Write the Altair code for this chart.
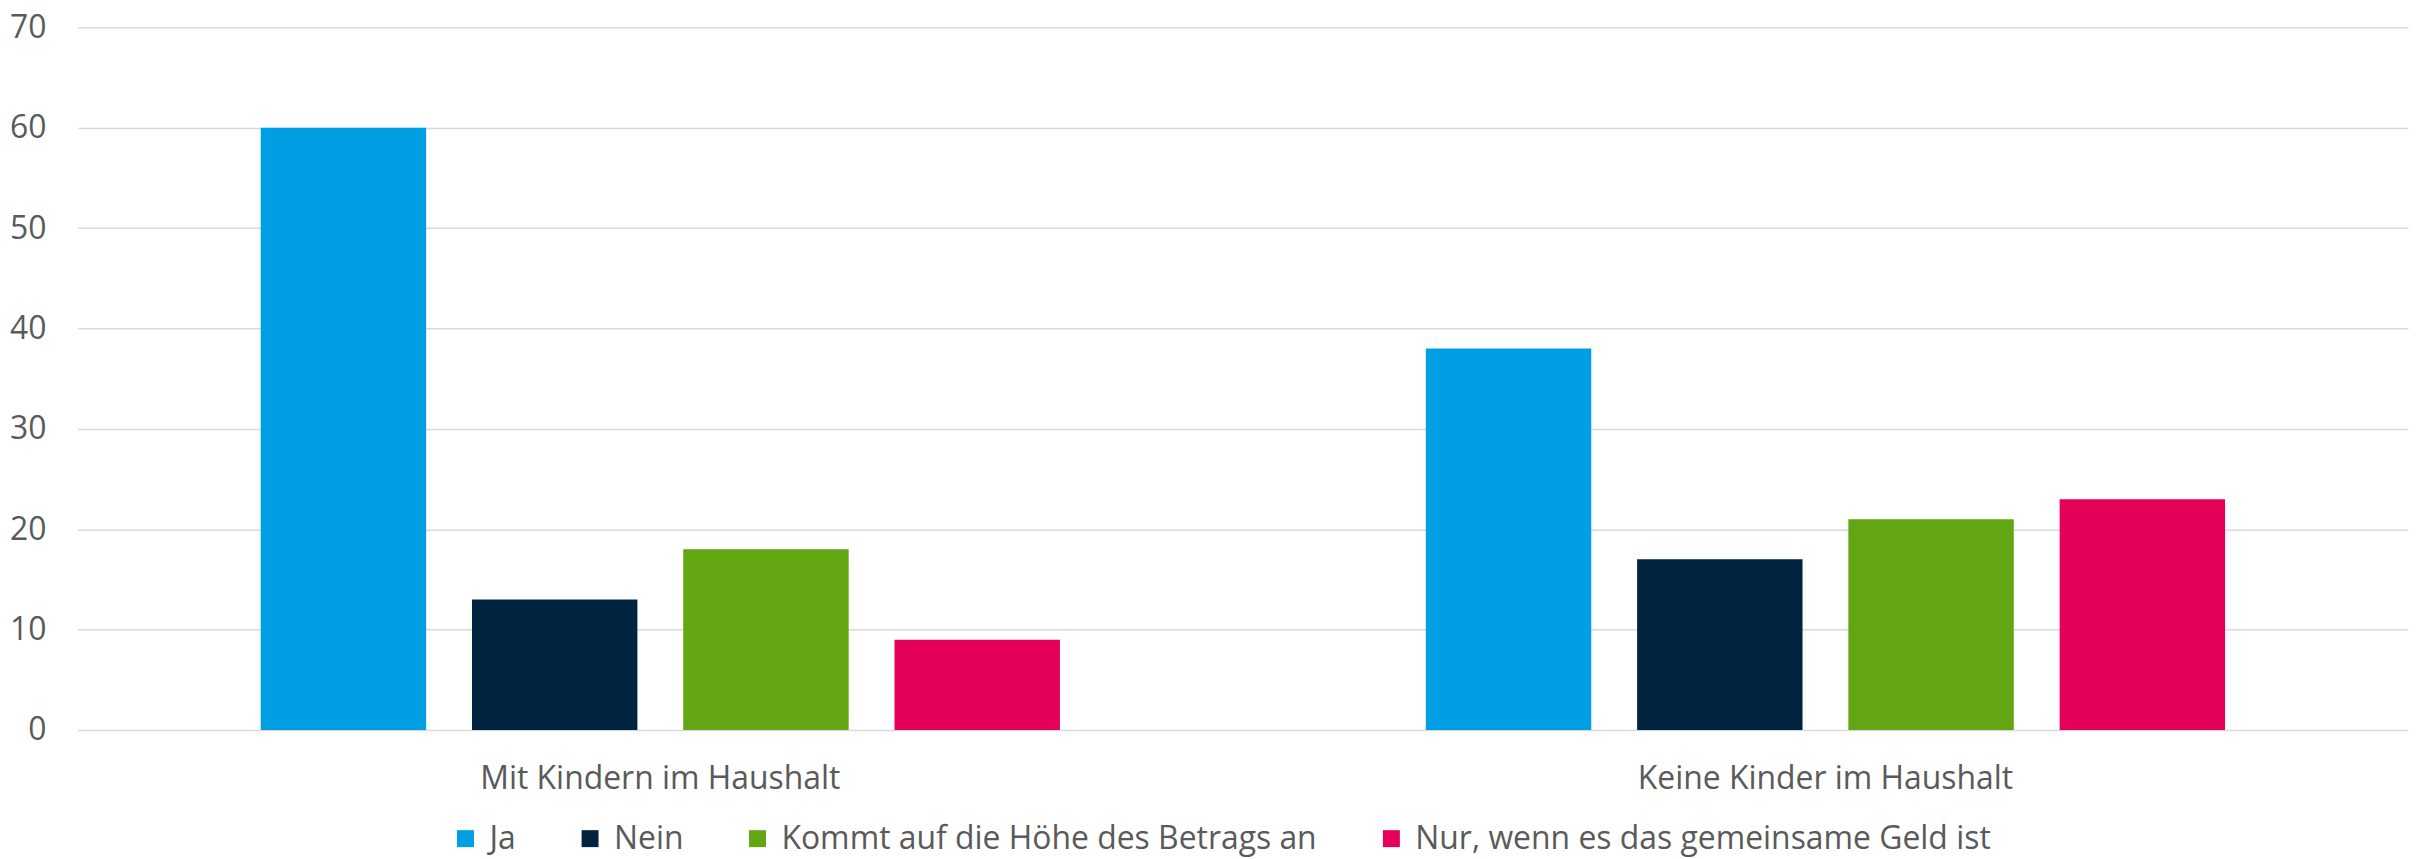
import altair as alt
import pandas as pd

groups = ["Mit Kindern im Haushalt", "Keine Kinder im Haushalt"]
answers = [
    "Ja",
    "Nein",
    "Kommt auf die Höhe des Betrags an",
    "Nur, wenn es das gemeinsame Geld ist",
]
values_mit_kindern = [60, 13, 18, 9]
values_keine_kinder = [38, 17, 21, 23]
colors = ["#009FE3", "#00233F", "#62A614", "#E5005A"]
y_ticks = [0, 10, 20, 30, 40, 50, 60, 70]

rows = []
for g, vals in zip(groups, [values_mit_kindern, values_keine_kinder]):
    for a, v in zip(answers, vals):
        rows.append({"Gruppe": g, "Antwort": a, "Wert": v})
df = pd.DataFrame(rows)

FONT = "Open Sans"
FS = 32
FW = 400
TXT = "#5a5a5a"
GRID = "#d9d9d9"

chart = (
    alt.Chart(df)
    .mark_bar()
    .encode(
        x=alt.X(
            "Gruppe:N",
            sort=groups,
            scale=alt.Scale(paddingInner=0, paddingOuter=0),
            axis=alt.Axis(
                title=None,
                labelAngle=0,
                ticks=False,
                domain=False,
                grid=False,
                labelPadding=34,
                labelFontSize=FS,
                labelFontWeight=FW,
                labelColor=TXT,
                labelFont=FONT,
                labelLimit=0,
            ),
        ),
        xOffset=alt.XOffset(
            "Antwort:N",
            sort=answers,
            scale=alt.Scale(paddingInner=0.217, paddingOuter=0.866),
        ),
        y=alt.Y(
            "Wert:Q",
            scale=alt.Scale(domain=[0, 70], nice=False),
            axis=alt.Axis(
                title=None,
                values=y_ticks,
                ticks=False,
                domain=False,
                grid=True,
                gridColor=GRID,
                gridWidth=1.5,
                labelPadding=32,
                labelFontSize=FS,
                labelFontWeight=FW,
                labelColor=TXT,
                labelFont=FONT,
                labelLimit=0,
            ),
        ),
        color=alt.Color(
            "Antwort:N",
            sort=answers,
            scale=alt.Scale(domain=answers, range=colors),
            legend=alt.Legend(
                title=None,
                orient="none",
                legendX=373,
                legendY=798,
                direction="horizontal",
                symbolType="square",
                symbolSize=289,
                symbolStrokeWidth=0,
                labelFontSize=FS,
                labelFontWeight=FW,
                labelFont=FONT,
                labelColor=TXT,
                labelOffset=8,
                labelLimit=0,
                columnPadding=58,
                padding=0,
            ),
        ),
    )
    .properties(
        width=2338,
        height=705,
        autosize=alt.AutoSizeParams(type="none"),
        padding={"left": 70, "top": 18, "right": 2, "bottom": 128},
    )
    .configure(background="white")
    .configure_view(strokeWidth=0, stroke="transparent")
)

chart.save("out.html", embed_options={"renderer": "svg", "actions": False})
